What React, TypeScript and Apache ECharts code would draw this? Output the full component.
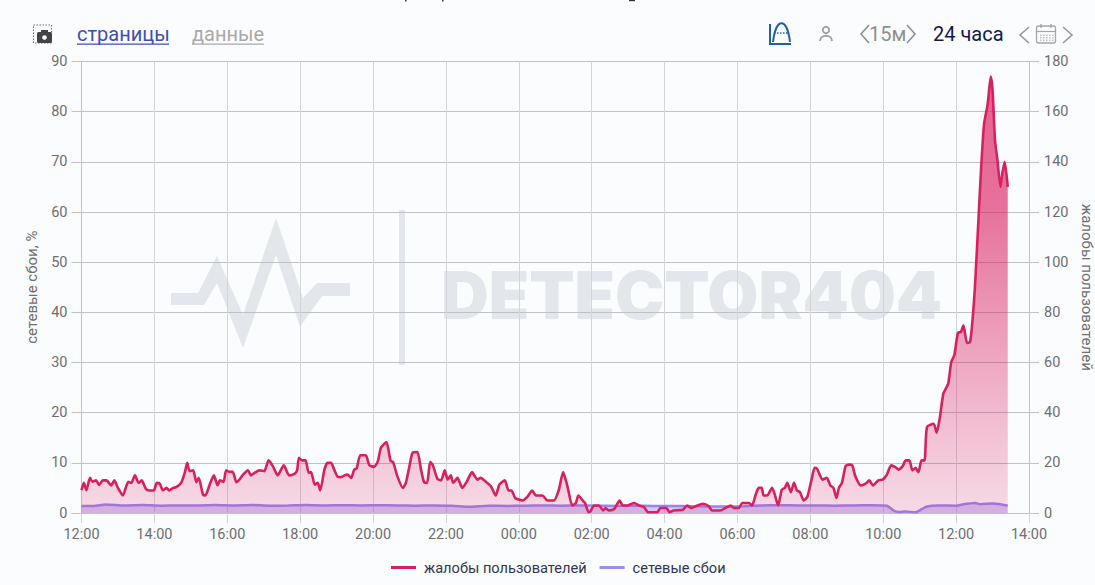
import React, { useEffect, useRef } from "react";
import * as echarts from "echarts";

const complaintMinutes = [0,4,8,14,18,24,29,35,41,49,54,60,68,77,82,88,94,99,106,112,119,124,129,134,140,144,151,156,164,170,174,178,184,189,193,200,204,211,218,224,228,234,238,244,249,255,260,266,274,279,285,293,301,308,315,323,333,342,351,355,358,363,369,374,378,384,389,393,400,405,411,416,422,427,433,438,444,449,453,459,468,474,482,488,493,502,509,513,520,529,534,540,545,553,559,564,569,574,578,586,592,598,603,608,612,619,627,634,643,652,657,666,674,682,688,697,703,708,714,726,734,742,748,759,767,778,786,793,800,808,814,818,826,829,835,838,844,852,859,863,868,877,886,891,899,910,918,926,933,948,953,963,968,975,990,997,1004,1014,1023,1033,1038,1052,1060,1069,1074,1082,1088,1099,1104,1110,1115,1120,1123,1129,1137,1141,1147,1153,1158,1162,1168,1173,1178,1183,1189,1195,1202,1207,1211,1220,1227,1233,1238,1243,1247,1252,1258,1263,1269,1274,1283,1291,1297,1303,1312,1319,1326,1333,1340,1345,1352,1357,1363,1368,1373,1378,1383,1388,1392,1403,1408,1413,1419,1427,1432,1437,1443,1448,1452,1458,1463,1467,1471,1477,1481,1486,1492,1497,1500,1504,1508,1513,1516,1520,1525];
const complaintValues = [9.1,12,9.1,14,12.5,13,11.2,13,13,11,13,10,7,12.4,12,15,12,13,9.6,9,9,12,11.6,9,10,9,10,10.3,12,16,20,16.7,17,12.3,14,7.3,7,11.3,15,11,13,12.4,17,16.4,16.4,12.3,13.3,15.3,17,15,16,17,16.7,21,18.7,15,19,15,15.7,17,22,21,21,16,16.3,11.3,12,9,17.3,20,20,17.3,14.4,14.3,15,15.3,14,17.3,17.7,23,23,19,18.4,20.7,26,28.3,20.7,20.3,14.7,10,12,18.7,24,24.3,17.3,12.3,12,20.3,19.3,13.6,13,17,13.3,15,12,14,10,12.3,16.3,13.3,14,12.4,10.7,7,11.3,13,9,9,6,5,6.4,9,7,7,5,5,9.3,16.3,10.7,3,4,7,4.7,4,0.3,0.7,3,3,1,2,1,1.6,5,3,3,4,3,2.4,0.3,0.3,2,2,0.3,1,1.3,3,2,3,3.7,2.7,1,1,2,3,2,2,4,4,3,7.3,10,10,7,7,10,7.7,3,9.3,10,12,8.3,12,9,8.3,5,6.4,13.3,18,17.7,13.3,14,11,10,6,10,12,18.7,19.3,19,14.7,11,11.7,13,11,13,13.3,15.3,19,18.3,17.3,18.7,21,21,17,18,16.3,21,21,34.3,35.6,32,37.6,47.6,51.6,60.2,62.9,71.8,72.2,74.8,67.8,68.2,76.8,90,118,136.7,155,163,174,168.6,148.6,140.7,130,135.3,140,130];

const outageMinutes = [0,20,40,70,100,130,160,190,220,250,280,310,340,370,400,430,460,490,520,550,580,610,640,670,700,730,760,790,820,850,880,910,940,970,1000,1030,1060,1090,1120,1150,1180,1210,1240,1270,1300,1326,1337,1346,1356,1373,1384,1392,1410,1441,1450,1471,1480,1499,1515,1525];
const outageValues = [1.4,1.4,1.7,1.5,1.6,1.45,1.5,1.5,1.6,1.5,1.6,1.45,1.5,1.6,1.5,1.55,1.5,1.55,1.5,1.45,1.5,1.45,1.25,1.45,1.4,1.45,1.5,1.45,1.5,1.45,1.4,1.45,1.4,1.4,1.35,1.3,1.3,1.35,1.5,1.55,1.5,1.5,1.45,1.5,1.55,1.45,0.5,0.2,0.3,0.15,0.8,1.3,1.5,1.45,1.7,2,1.75,1.9,1.7,1.45];

const tickMinutes = 120;
const startHour = 12;
const leftName = "сетевые сбои, %";
const rightName = "жалобы пользователей";
const complaintsName = "жалобы пользователей";
const outagesName = "сетевые сбои";

const FONT = "Roboto, Arial, sans-serif";
const WM = "#e3e6ea";
const logoOutline = [[171,293],[198,293],[217,256],[243,315],[276,218],[303,298],[317,283],[350,283],[350,296],[322,296],[300,327],[276,255],[243,348],[217,283],[204,305],[171,305]];

const chevron = (x: number, y: number, w: number, h: number, color: string, dir: number) => ({
  type: "polyline",
  shape: { points: [[x + (dir > 0 ? 0 : w), y], [x + (dir > 0 ? w : 0), y + h / 2], [x + (dir > 0 ? 0 : w), y + h]] },
  style: { stroke: color, lineWidth: 1.6, fill: "none" },
  silent: true,
});

const calendarDots: any[] = [];
[34.5, 37, 39.5].forEach((y) =>
  [1040, 1043, 1046, 1049, 1052].forEach((x) =>
    calendarDots.push({ type: "rect", shape: { x, y, width: 1.6, height: 1.4 }, style: { fill: "#c2c2c2" }, silent: true })
  )
);

const toolbar: any[] = [
  // watermark
  { type: "polygon", z: -10, shape: { points: logoOutline }, style: { fill: WM }, silent: true },
  { type: "rect", z: -10, shape: { x: 399, y: 210, width: 6, height: 155 }, style: { fill: WM }, silent: true },
  { type: "text", z: -10, x: 441, y: 262, style: { text: "DETECTOR404", font: `900 66px Inter, ${FONT}`, fill: WM }, silent: true },
  // descenders of the title cut off by the top edge
  { type: "rect", shape: { x: 405, y: 0, width: 1.6, height: 1.4 }, style: { fill: "#444" }, silent: true },
  { type: "rect", shape: { x: 442, y: 0, width: 1.6, height: 1.4 }, style: { fill: "#444" }, silent: true },
  { type: "rect", shape: { x: 629, y: 0, width: 6, height: 1.2 }, style: { fill: "#334" }, silent: true },
  // camera icon
  { type: "rect", shape: { x: 33.5, y: 25, width: 18, height: 18 }, style: { fill: "none", stroke: "#666", lineWidth: 1, lineDash: [1.5, 1.5] }, silent: true },
  { type: "rect", shape: { x: 37, y: 32, width: 15, height: 11, r: 1.5 }, style: { fill: "#444" }, silent: true },
  { type: "rect", shape: { x: 41, y: 30, width: 7, height: 3 }, style: { fill: "#444" }, silent: true },
  { type: "circle", shape: { cx: 44.5, cy: 37.5, r: 2.3 }, style: { fill: "#fbfcfe" }, silent: true },
  // links
  { type: "text", x: 77, y: 24, style: { text: "страницы", font: `20px ${FONT}`, fill: "#3f4db5" }, silent: true },
  { type: "rect", shape: { x: 77, y: 43.5, width: 92, height: 1.3 }, style: { fill: "#3f4db5" }, silent: true },
  { type: "text", x: 192, y: 24, style: { text: "данные", font: `20px ${FONT}`, fill: "#a9a9a9" }, silent: true },
  { type: "rect", shape: { x: 192, y: 43.5, width: 72, height: 1.3 }, style: { fill: "#a9a9a9" }, silent: true },
  // chart mode icon
  { type: "polyline", shape: { points: [[770, 24], [770, 44], [791, 44]] }, style: { stroke: "#1c62ad", lineWidth: 2, fill: "none" }, silent: true },
  { type: "bezierCurve", shape: { x1: 773, y1: 42, x2: 790, y2: 42, cpx1: 776, cpy1: 17, cpx2: 787, cpy2: 17 }, style: { stroke: "#1c62ad", lineWidth: 2, fill: "none" }, silent: true },
  { type: "line", shape: { x1: 774, y1: 33, x2: 789, y2: 33 }, style: { stroke: "#1c62ad", lineWidth: 1.4, lineDash: [1.5, 1.5] }, silent: true },
  // person icon
  { type: "circle", shape: { cx: 826, cy: 30, r: 3.2 }, style: { fill: "none", stroke: "#a0a0a0", lineWidth: 1.8 }, silent: true },
  { type: "bezierCurve", shape: { x1: 820, y1: 41, x2: 832, y2: 41, cpx1: 820, cpy1: 34, cpx2: 832, cpy2: 34 }, style: { fill: "none", stroke: "#a0a0a0", lineWidth: 1.8 }, silent: true },
  // range
  chevron(861, 25, 8, 18, "#8f8f8f", -1),
  { type: "text", x: 869, y: 24, style: { text: "15м", font: `20px ${FONT}`, fill: "#8f8f8f" }, silent: true },
  chevron(907, 25, 8, 18, "#8f8f8f", 1),
  { type: "text", x: 933, y: 24, style: { text: "24 часа", font: `20px ${FONT}`, fill: "#10194a" }, silent: true },
  chevron(1020, 27, 9, 16, "#999", -1),
  { type: "rect", shape: { x: 1036.5, y: 26, width: 19, height: 17, r: 2 }, style: { fill: "#fbfcfe", stroke: "#a5a5a5", lineWidth: 1.3 }, silent: true },
  { type: "line", shape: { x1: 1037, y1: 31.5, x2: 1055, y2: 31.5 }, style: { stroke: "#a5a5a5", lineWidth: 1.2 }, silent: true },
  { type: "line", shape: { x1: 1041, y1: 24, x2: 1041, y2: 28 }, style: { stroke: "#a5a5a5", lineWidth: 1.4 }, silent: true },
  { type: "line", shape: { x1: 1051, y1: 24, x2: 1051, y2: 28 }, style: { stroke: "#a5a5a5", lineWidth: 1.4 }, silent: true },
  ...calendarDots,
  chevron(1063, 27, 9, 16, "#999", 1),
];

function App() {
  const ref = useRef<HTMLDivElement>(null);
  useEffect(() => {
    document.body.style.margin = "0";
    document.body.style.background = "#fbfcfe";
    const chart = echarts.init(ref.current!, undefined, { renderer: "svg" });
    const axisLabel = { color: "#6e6e6e", fontSize: 14.5, fontFamily: FONT };
    const nameStyle = { color: "#6e6e6e", fontSize: 15, fontFamily: FONT };
    chart.setOption({
      animation: false,
      backgroundColor: "#fbfcfe",
      grid: { left: 81.5, right: 66, top: 61.5, bottom: 72, containLabel: false, outerBoundsMode: "none" },
      graphic: { elements: toolbar },
      legend: {
        bottom: 5,
        left: 386,
        itemWidth: 25,
        itemHeight: 3,
        itemGap: 13,
        icon: "rect",
        textStyle: { color: "#2f3550", fontSize: 14.6, fontFamily: FONT, padding: [0, 0, 0, 3] },
        data: [complaintsName, outagesName],
      },
      xAxis: {
        type: "value",
        min: 0,
        max: 1560,
        interval: tickMinutes,
        axisLine: { show: true, lineStyle: { color: "#bfc1c6" } },
        axisTick: { show: true, length: 10, lineStyle: { color: "#d3d5db" } },
        splitLine: { show: true, lineStyle: { color: "#d3d5db" } },
        axisLabel: {
          ...axisLabel,
          margin: 14,
          formatter: (v: number) => {
            const h = (startHour + Math.round(v / 60)) % 24;
            return `${String(h).padStart(2, "0")}:00`;
          },
        },
      },
      yAxis: [
        {
          type: "value", min: 0, max: 90, interval: 10, position: "left",
          name: leftName, nameLocation: "middle", nameGap: 42, nameRotate: 90, nameTextStyle: nameStyle,
          axisLine: { show: true, lineStyle: { color: "#bfc1c6" } },
          axisTick: { show: true, length: 10, lineStyle: { color: "#bfc1c6" } },
          splitLine: { show: true, lineStyle: { color: "#bfc1c6" } },
          axisLabel: { ...axisLabel, margin: 14 },
        },
        {
          type: "value", min: 0, max: 180, interval: 20, position: "right",
          name: rightName, nameLocation: "middle", nameGap: 50, nameRotate: -90, nameTextStyle: nameStyle,
          axisLine: { show: true, lineStyle: { color: "#bfc1c6" } },
          axisTick: { show: true, length: 10, lineStyle: { color: "#bfc1c6" } },
          splitLine: { show: false },
          axisLabel: { ...axisLabel, margin: 15 },
        },
      ],
      series: [
        {
          name: outagesName,
          type: "line",
          yAxisIndex: 0,
          z: 2,
          showSymbol: false,
          symbol: "none",
          smooth: 0.2,
          data: outageMinutes.map((m, i) => [m, outageValues[i]]),
          itemStyle: { color: "#9a8cf2" },
          lineStyle: { color: "#9a84ee", width: 2.5 },
          areaStyle: { color: "rgba(140,110,240,0.5)", origin: "start" },
        },
        {
          name: complaintsName,
          type: "line",
          yAxisIndex: 1,
          z: 3,
          showSymbol: false,
          symbol: "none",
          smooth: 0.2,
          data: complaintMinutes.map((m, i) => [m, complaintValues[i]]),
          itemStyle: { color: "#d9205f" },
          lineStyle: { color: "#d9205f", width: 2.6 },
          areaStyle: {
            origin: "start",
            color: new echarts.graphic.LinearGradient(0, 0, 0, 1, [
              { offset: 0, color: "rgba(218,32,98,1)" },
              { offset: 0.3, color: "rgba(218,32,98,0.9)" },
              { offset: 0.55, color: "rgba(218,32,98,0.65)" },
              { offset: 0.8, color: "rgba(218,32,98,0.4)" },
              { offset: 1, color: "rgba(218,32,98,0.22)" },
            ]),
          },
        },
      ],
    });
    return () => chart.dispose();
  }, []);
  return <div ref={ref} style={{ position: "fixed", left: 0, top: 0, width: 1095, height: 585 }} />;
}

export default App;
